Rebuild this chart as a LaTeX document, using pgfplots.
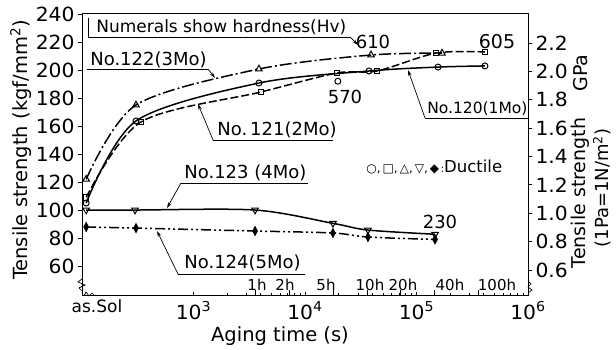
\documentclass[border=0pt]{standalone}
\usepackage{fontspec}
\setmainfont{DejaVu Sans}
\newfontfamily\tickfont{DejaVu Sans}[FakeStretch=1.04]
\usepackage{pgfplots}
\pgfplotsset{compat=1.18}
\usetikzlibrary{arrows.meta}
\newcommand{\fs}[1]{\fontsize{#1}{#1}\selectfont}
\begin{document}
\begin{tikzpicture}
\begin{axis}[
  at={(82pt,54pt)}, anchor=south west,
  scale only axis, width=446pt, height=282pt,
  xmode=log, xmin=100, xmax=1000000,
  ymin=38.6, ymax=240,
  xtick={1000,10000,100000,1000000},
  xticklabels={10\textsuperscript{3},10\textsuperscript{4},10\textsuperscript{5},10\textsuperscript{6}},
  minor xtick={},
  extra x ticks={3600,7200,18000,36000,72000,144000,360000},
  extra x tick labels={},
  extra x tick style={major tick length=6pt, tick align=inside},
  xtick pos=bottom, xtick align=inside,
  ytick={60,80,...,240},
  ytick pos=left, ytick align=outside,
  major tick length=4pt,
  tick style={black, line width=0.8pt},
  axis line style={line width=1pt},
  xticklabel style={font=\tickfont\fs{19.5}, yshift=-2pt},
  yticklabel style={font=\tickfont\fs{19.5}},
  /pgf/number format/assume math mode=true,
  clip=false,
]
% No.120 (1Mo)
\addplot[black, line width=1.5pt, smooth, mark=o, mark size=3pt, mark options={solid, fill=white, line width=1pt}]
coordinates {(109,105) (305,163.6) (3865,190.7) (37500,199.3) (156000,202.1) (411000,202.9)};
\addplot[only marks, black, mark=o, mark size=3pt, mark options={fill=white, line width=1pt}]
coordinates {(19700,192)};
% No.121 (2Mo)
\addplot[black, line width=1.5pt, smooth, dash pattern=on 8pt off 3pt, mark=square, mark size=2.8pt, mark options={solid, fill=white, line width=1pt}]
coordinates {(109,109) (338,162.9) (4030,184.3) (19360,197.9) (44200,199.3) (149600,212.1) (411000,212.9)};
% No.122 (3Mo)
\addplot[black, line width=1.5pt, smooth, dash pattern=on 12pt off 3pt on 2pt off 3pt, mark=triangle, mark size=3.8pt, mark options={solid, fill=white, line width=1pt}]
coordinates {(109,122) (305,175) (3865,200.7) (39100,210.7) (169400,212)};
% No.123 (4Mo)
\addplot[black, line width=1.5pt, smooth, mark=triangle, mark size=3.8pt, mark options={solid, rotate=180, fill=white, line width=1pt}]
coordinates {(109,100) (299,100) (3565,100) (17800,90.5) (36700,85.7) (146600,82.7)};
% No.124 (5Mo)
\addplot[black, line width=1.5pt, smooth, dash pattern=on 10pt off 3pt on 2pt off 3pt on 2pt off 3pt, mark=diamond*, mark size=3.8pt, mark options={solid, xscale=0.7, fill=black}]
coordinates {(109,87.9) (305,87.1) (3565,85) (17800,83.6) (36700,80.7) (146600,79)};
\end{axis}
\begin{axis}[
  at={(82pt,54pt)}, anchor=south west,
  scale only axis, width=446pt, height=282pt,
  xmode=log, xmin=100, xmax=1000000,
  ymin=0.4167, ymax=2.404,
  axis y line*=right, axis x line=none,
  ytick={0.6,0.8,1.0,1.2,1.4,1.6,1.8,2.0,2.2},
  ytick align=outside, major tick length=4pt,
  tick style={black, line width=0.8pt},
  axis line style={line width=1pt},
  yticklabel style={font=\tickfont\fs{19.5}, /pgf/number format/fixed, /pgf/number format/fixed zerofill, /pgf/number format/precision=1},
  /pgf/number format/assume math mode=true,
]
\addplot[draw=none] coordinates {(1000,1.0)};
\end{axis}
\begin{scope}[x=1pt, y=-1pt, shift={(0pt,350pt)}, line width=0.7pt]
% axis labels
\node[rotate=90, font=\fs{19.5}] at (21,150) {Tensile strength (kgf/mm\textsuperscript{2})};
\node[font=\fs{19.5}] at (280,336) {Aging time (s)};
\node[rotate=90, font=\fs{19}] at (580,193) {Tensile strength};
\node[rotate=90, font=\fs{19}] at (581,73) {GPa};
\node[rotate=90, font=\fs{18}] at (602,188) {(1Pa=1N/m\textsuperscript{2})};
\node[font=\fs{17}] at (97,306) {as.Sol};
% header note
\node[anchor=base west, font=\fs{17}, inner sep=0pt] at (96,33) {Numerals show hardness(Hv)};
\draw (88,18) -- (88,37) -- (350,37);
\draw[-{Stealth[length=6pt,width=3.5pt]}] (350,37) -- (358,45);
% series labels
\node[anchor=base west, font=\fs{18}, inner sep=0pt] at (90,66) {No.122(3Mo)};
\draw (87,69) -- (208,69);
\draw[-{Stealth[length=6pt,width=3.5pt]}] (208,69) -- (215,78);
\node[anchor=base west, font=\fs{18}, inner sep=0pt] at (217,136) {No.\,121(2Mo)};
\draw (213,140) -- (333,140);
\draw[-{Stealth[length=6pt,width=3.5pt]}] (213,140) -- (198,104);
\node[anchor=base west, font=\fs{15.5}, inner sep=0pt] at (427,114) {No.120(1Mo)};
\draw (425,118) -- (528,118);
\draw[-{Stealth[length=6pt,width=3.5pt]}] (425,118) -- (408,70);
\node[anchor=base west, font=\fs{18}, inner sep=0pt] at (184,179) {No.123 (4Mo)};
\draw (181,183) -- (308,183);
\draw[-{Stealth[length=6pt,width=3.5pt]}] (181,183) -- (167,208);
\node[anchor=base west, font=\fs{18}, inner sep=0pt] at (184,269) {No.124(5Mo)};
\draw (178,274) -- (305,274);
\draw[-{Stealth[length=6pt,width=3.5pt]}] (178,274) -- (157,231);
% hardness numerals
\node[font=\fs{18}] at (345,97) {570};
\node[font=\fs{18}] at (373,42) {610};
\node[font=\fs{19}] at (497,42) {605};
\node[font=\fs{18}] at (440,222) {230};
% ductile legend
\node[anchor=west, inner sep=0pt] at (366,167) {{\fs{12}○,\,□,\,△,\,▽,\,◆}\,:{\fs{16.5}Ductile}};
% hour labels
\node[anchor=base, font=\fs{15}] at (257,291) {1h};
\node[anchor=base, font=\fs{15}] at (285,291) {2h};
\node[anchor=base, font=\fs{15}] at (326,291) {5h};
\node[anchor=base, font=\fs{15}] at (370,291) {10h};
\node[anchor=base, font=\fs{15}] at (403,291) {20h};
\node[anchor=base, font=\fs{15}] at (450,291) {40h};
\node[anchor=base, font=\fs{15}] at (497,291) {100h};
% axis breaks
\draw (82,279) -- (78,282) -- (85,285) -- (79,288) -- (82,291);
\draw (84,296) -- (86,292) -- (89,296) -- (92,293) -- (95,296);
\draw (528,281) -- (531,284) -- (528,287) -- (532,290) -- (528,293);
\end{scope}
\pgfresetboundingbox
\path[use as bounding box] (0,0) rectangle (616pt,350pt);
\end{tikzpicture}
\end{document}
